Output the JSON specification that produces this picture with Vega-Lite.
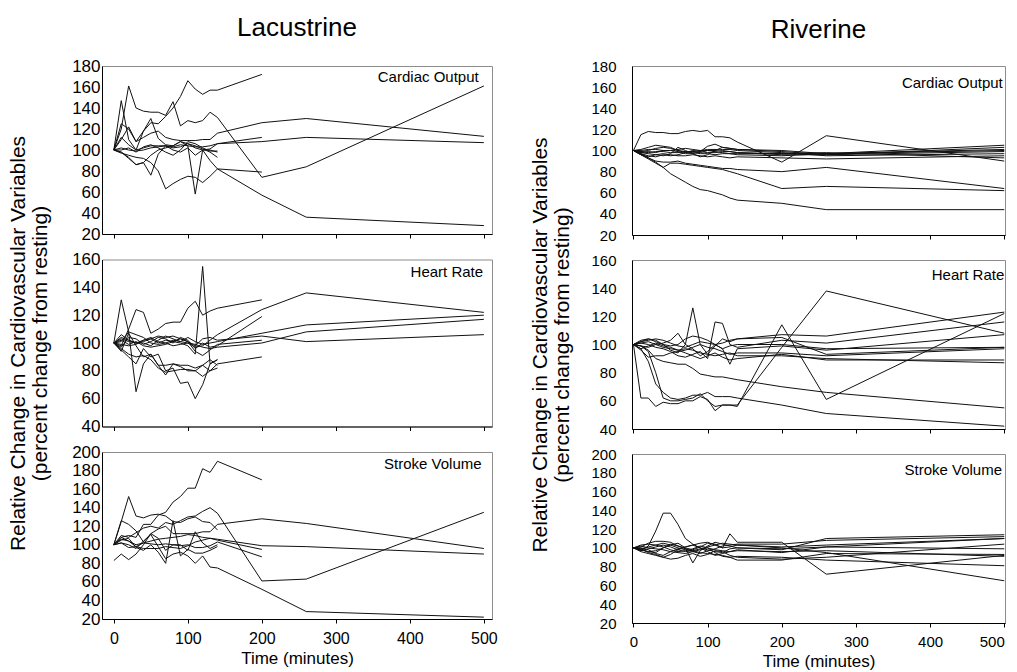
{
"$schema": "https://vega.github.io/schema/vega-lite/v6.json",
"background": "white",
"padding": {"left": 7, "top": 14, "right": 5, "bottom": 5},
"config": {
  "view": {"stroke": "#8c8c8c"},
  "axis": {"grid": false, "domainColor": "#000", "tickColor": "#000", "labelColor": "#000", "labelFont": "Liberation Sans", "labelFontSize": 17, "labelOverlap": false, "titleFont": "Liberation Sans", "titleFontSize": 21, "titleFontWeight": "normal", "titleColor": "#000", "tickSize": 4},
  "axisY": {"ticks": false, "labelPadding": 2},
  "axisX": {"labelPadding": 7},
  "line": {"color": "#111", "strokeWidth": 1},
  "text": {"font": "Liberation Sans", "fontSize": 15, "color": "#000"}
},
"datasets": {
"lco": [
{"i":1,"t":0,"v":100},{"i":1,"t":10,"v":110},{"i":1,"t":20,"v":122},{"i":1,"t":30,"v":108},{"i":1,"t":40,"v":118},{"i":1,"t":50,"v":126},{"i":1,"t":60,"v":125},{"i":1,"t":70,"v":132},{"i":1,"t":80,"v":140},{"i":1,"t":90,"v":151},{"i":1,"t":100,"v":166},{"i":1,"t":110,"v":158},{"i":1,"t":120,"v":153},{"i":1,"t":130,"v":157},{"i":1,"t":140,"v":157},{"i":1,"t":200,"v":172},
{"i":2,"t":0,"v":100},{"i":2,"t":10,"v":120},{"i":2,"t":20,"v":161},{"i":2,"t":30,"v":140},{"i":2,"t":40,"v":137},{"i":2,"t":50,"v":136},{"i":2,"t":60,"v":136},{"i":2,"t":70,"v":133},{"i":2,"t":80,"v":146},{"i":2,"t":90,"v":123},{"i":2,"t":100,"v":128},{"i":2,"t":110,"v":126},{"i":2,"t":120,"v":128},{"i":2,"t":130,"v":136},{"i":2,"t":140,"v":131},{"i":2,"t":200,"v":74},{"i":2,"t":260,"v":84},{"i":2,"t":500,"v":161},
{"i":3,"t":0,"v":100},{"i":3,"t":10,"v":147},{"i":3,"t":20,"v":110},{"i":3,"t":30,"v":100},{"i":3,"t":40,"v":118},{"i":3,"t":50,"v":130},{"i":3,"t":60,"v":111},{"i":3,"t":70,"v":105},{"i":3,"t":80,"v":104},{"i":3,"t":90,"v":108},{"i":3,"t":100,"v":106},{"i":3,"t":110,"v":104},{"i":3,"t":120,"v":101},{"i":3,"t":130,"v":98},{"i":3,"t":140,"v":93},
{"i":4,"t":0,"v":100},{"i":4,"t":10,"v":125},{"i":4,"t":20,"v":120},{"i":4,"t":30,"v":108},{"i":4,"t":40,"v":112},{"i":4,"t":50,"v":116},{"i":4,"t":60,"v":118},{"i":4,"t":70,"v":112},{"i":4,"t":80,"v":110},{"i":4,"t":90,"v":109},{"i":4,"t":100,"v":109},{"i":4,"t":110,"v":109},{"i":4,"t":120,"v":110},{"i":4,"t":130,"v":110},{"i":4,"t":140,"v":116},{"i":4,"t":200,"v":126},{"i":4,"t":260,"v":130},{"i":4,"t":500,"v":113},
{"i":5,"t":0,"v":100},{"i":5,"t":10,"v":112},{"i":5,"t":20,"v":105},{"i":5,"t":30,"v":100},{"i":5,"t":40,"v":102},{"i":5,"t":50,"v":104},{"i":5,"t":60,"v":104},{"i":5,"t":70,"v":104},{"i":5,"t":80,"v":103},{"i":5,"t":90,"v":105},{"i":5,"t":100,"v":104},{"i":5,"t":110,"v":103},{"i":5,"t":120,"v":103},{"i":5,"t":130,"v":104},{"i":5,"t":140,"v":106},{"i":5,"t":200,"v":108},{"i":5,"t":260,"v":112},{"i":5,"t":500,"v":107},
{"i":6,"t":0,"v":100},{"i":6,"t":10,"v":102},{"i":6,"t":20,"v":100},{"i":6,"t":30,"v":99},{"i":6,"t":40,"v":100},{"i":6,"t":50,"v":102},{"i":6,"t":60,"v":103},{"i":6,"t":70,"v":104},{"i":6,"t":80,"v":102},{"i":6,"t":90,"v":103},{"i":6,"t":100,"v":106},{"i":6,"t":110,"v":102},{"i":6,"t":120,"v":100},{"i":6,"t":130,"v":101},{"i":6,"t":140,"v":106},{"i":6,"t":200,"v":112},
{"i":7,"t":0,"v":100},{"i":7,"t":10,"v":97},{"i":7,"t":20,"v":95},{"i":7,"t":30,"v":93},{"i":7,"t":40,"v":92},{"i":7,"t":50,"v":88},{"i":7,"t":60,"v":80},{"i":7,"t":70,"v":63},{"i":7,"t":80,"v":68},{"i":7,"t":90,"v":72},{"i":7,"t":100,"v":75},{"i":7,"t":110,"v":74},{"i":7,"t":120,"v":69},{"i":7,"t":130,"v":75},{"i":7,"t":140,"v":82},{"i":7,"t":200,"v":79},
{"i":8,"t":0,"v":100},{"i":8,"t":10,"v":98},{"i":8,"t":20,"v":93},{"i":8,"t":30,"v":86},{"i":8,"t":40,"v":88},{"i":8,"t":50,"v":95},{"i":8,"t":60,"v":100},{"i":8,"t":70,"v":102},{"i":8,"t":80,"v":104},{"i":8,"t":90,"v":108},{"i":8,"t":100,"v":104},{"i":8,"t":110,"v":58},{"i":8,"t":120,"v":100},{"i":8,"t":130,"v":90},{"i":8,"t":140,"v":82},{"i":8,"t":200,"v":57},{"i":8,"t":260,"v":36},{"i":8,"t":500,"v":28},
{"i":9,"t":0,"v":100},{"i":9,"t":10,"v":98},{"i":9,"t":20,"v":92},{"i":9,"t":30,"v":86},{"i":9,"t":40,"v":88},{"i":9,"t":50,"v":76},{"i":9,"t":60,"v":96},{"i":9,"t":70,"v":104},{"i":9,"t":80,"v":100},{"i":9,"t":90,"v":98},{"i":9,"t":100,"v":102},{"i":9,"t":110,"v":95},{"i":9,"t":120,"v":100},{"i":9,"t":130,"v":100},{"i":9,"t":140,"v":98},
{"i":10,"t":0,"v":100},{"i":10,"t":10,"v":100},{"i":10,"t":20,"v":102},{"i":10,"t":30,"v":98},{"i":10,"t":40,"v":103},{"i":10,"t":50,"v":105},{"i":10,"t":60,"v":102},{"i":10,"t":70,"v":98},{"i":10,"t":80,"v":95},{"i":10,"t":90,"v":100},{"i":10,"t":100,"v":108},{"i":10,"t":110,"v":106},{"i":10,"t":120,"v":102},{"i":10,"t":130,"v":99},{"i":10,"t":140,"v":99}
],
"lhr": [
{"i":1,"t":0,"v":100},{"i":1,"t":10,"v":98},{"i":1,"t":20,"v":110},{"i":1,"t":30,"v":124},{"i":1,"t":40,"v":122},{"i":1,"t":50,"v":107},{"i":1,"t":60,"v":110},{"i":1,"t":70,"v":114},{"i":1,"t":80,"v":115},{"i":1,"t":90,"v":115},{"i":1,"t":100,"v":125},{"i":1,"t":110,"v":130},{"i":1,"t":120,"v":120},{"i":1,"t":130,"v":123},{"i":1,"t":140,"v":125},{"i":1,"t":200,"v":131},
{"i":2,"t":0,"v":100},{"i":2,"t":10,"v":104},{"i":2,"t":20,"v":102},{"i":2,"t":30,"v":100},{"i":2,"t":40,"v":101},{"i":2,"t":50,"v":103},{"i":2,"t":60,"v":100},{"i":2,"t":70,"v":102},{"i":2,"t":80,"v":101},{"i":2,"t":90,"v":100},{"i":2,"t":100,"v":98},{"i":2,"t":110,"v":92},{"i":2,"t":120,"v":155},{"i":2,"t":130,"v":85},{"i":2,"t":140,"v":88},
{"i":3,"t":0,"v":100},{"i":3,"t":10,"v":131},{"i":3,"t":20,"v":108},{"i":3,"t":30,"v":65},{"i":3,"t":40,"v":85},{"i":3,"t":50,"v":92},{"i":3,"t":60,"v":84},{"i":3,"t":70,"v":77},{"i":3,"t":80,"v":85},{"i":3,"t":90,"v":84},{"i":3,"t":100,"v":84},{"i":3,"t":110,"v":82},{"i":3,"t":120,"v":84},{"i":3,"t":130,"v":80},{"i":3,"t":140,"v":85},{"i":3,"t":200,"v":90},
{"i":4,"t":0,"v":100},{"i":4,"t":10,"v":95},{"i":4,"t":20,"v":90},{"i":4,"t":30,"v":85},{"i":4,"t":40,"v":96},{"i":4,"t":50,"v":90},{"i":4,"t":60,"v":92},{"i":4,"t":70,"v":80},{"i":4,"t":80,"v":82},{"i":4,"t":90,"v":71},{"i":4,"t":100,"v":72},{"i":4,"t":110,"v":60},{"i":4,"t":120,"v":70},{"i":4,"t":130,"v":85},{"i":4,"t":140,"v":88},
{"i":5,"t":0,"v":100},{"i":5,"t":10,"v":103},{"i":5,"t":20,"v":101},{"i":5,"t":30,"v":100},{"i":5,"t":40,"v":102},{"i":5,"t":50,"v":104},{"i":5,"t":60,"v":101},{"i":5,"t":70,"v":100},{"i":5,"t":80,"v":102},{"i":5,"t":90,"v":101},{"i":5,"t":100,"v":100},{"i":5,"t":110,"v":97},{"i":5,"t":120,"v":98},{"i":5,"t":130,"v":102},{"i":5,"t":140,"v":106},{"i":5,"t":200,"v":124},{"i":5,"t":260,"v":136},{"i":5,"t":500,"v":122},
{"i":6,"t":0,"v":100},{"i":6,"t":10,"v":97},{"i":6,"t":20,"v":104},{"i":6,"t":30,"v":103},{"i":6,"t":40,"v":99},{"i":6,"t":50,"v":101},{"i":6,"t":60,"v":104},{"i":6,"t":70,"v":103},{"i":6,"t":80,"v":100},{"i":6,"t":90,"v":104},{"i":6,"t":100,"v":102},{"i":6,"t":110,"v":96},{"i":6,"t":120,"v":100},{"i":6,"t":130,"v":97},{"i":6,"t":140,"v":98},{"i":6,"t":200,"v":119},
{"i":7,"t":0,"v":100},{"i":7,"t":10,"v":106},{"i":7,"t":20,"v":102},{"i":7,"t":30,"v":100},{"i":7,"t":40,"v":100},{"i":7,"t":50,"v":98},{"i":7,"t":60,"v":102},{"i":7,"t":70,"v":105},{"i":7,"t":80,"v":103},{"i":7,"t":90,"v":101},{"i":7,"t":100,"v":104},{"i":7,"t":110,"v":101},{"i":7,"t":120,"v":99},{"i":7,"t":130,"v":100},{"i":7,"t":140,"v":101},{"i":7,"t":200,"v":107},{"i":7,"t":260,"v":113},{"i":7,"t":500,"v":120},
{"i":8,"t":0,"v":100},{"i":8,"t":10,"v":101},{"i":8,"t":20,"v":108},{"i":8,"t":30,"v":106},{"i":8,"t":40,"v":104},{"i":8,"t":50,"v":100},{"i":8,"t":60,"v":99},{"i":8,"t":70,"v":100},{"i":8,"t":80,"v":98},{"i":8,"t":90,"v":99},{"i":8,"t":100,"v":100},{"i":8,"t":110,"v":99},{"i":8,"t":120,"v":97},{"i":8,"t":130,"v":96},{"i":8,"t":140,"v":97},{"i":8,"t":200,"v":100},{"i":8,"t":260,"v":108},{"i":8,"t":500,"v":117},
{"i":9,"t":0,"v":100},{"i":9,"t":10,"v":102},{"i":9,"t":20,"v":99},{"i":9,"t":30,"v":101},{"i":9,"t":40,"v":98},{"i":9,"t":50,"v":97},{"i":9,"t":60,"v":98},{"i":9,"t":70,"v":99},{"i":9,"t":80,"v":101},{"i":9,"t":90,"v":103},{"i":9,"t":100,"v":101},{"i":9,"t":110,"v":98},{"i":9,"t":120,"v":103},{"i":9,"t":130,"v":104},{"i":9,"t":140,"v":102},{"i":9,"t":200,"v":105},{"i":9,"t":260,"v":101},{"i":9,"t":500,"v":106},
{"i":10,"t":0,"v":100},{"i":10,"t":10,"v":94},{"i":10,"t":20,"v":107},{"i":10,"t":30,"v":98},{"i":10,"t":40,"v":90},{"i":10,"t":50,"v":92},{"i":10,"t":60,"v":84},{"i":10,"t":70,"v":84},{"i":10,"t":80,"v":85},{"i":10,"t":90,"v":83},{"i":10,"t":100,"v":80},{"i":10,"t":110,"v":80},{"i":10,"t":120,"v":76},{"i":10,"t":130,"v":80},{"i":10,"t":140,"v":82},
{"i":11,"t":0,"v":100},{"i":11,"t":10,"v":99},{"i":11,"t":20,"v":98},{"i":11,"t":30,"v":99},{"i":11,"t":40,"v":102},{"i":11,"t":50,"v":103},{"i":11,"t":60,"v":105},{"i":11,"t":70,"v":104},{"i":11,"t":80,"v":105},{"i":11,"t":90,"v":103},{"i":11,"t":100,"v":101},{"i":11,"t":110,"v":94},{"i":11,"t":120,"v":91},{"i":11,"t":130,"v":95},{"i":11,"t":140,"v":99},{"i":11,"t":200,"v":102},
{"i":12,"t":0,"v":100},{"i":12,"t":10,"v":96},{"i":12,"t":20,"v":92},{"i":12,"t":30,"v":90},{"i":12,"t":40,"v":91},{"i":12,"t":50,"v":88},{"i":12,"t":60,"v":82},{"i":12,"t":70,"v":79},{"i":12,"t":80,"v":80},{"i":12,"t":90,"v":81},{"i":12,"t":100,"v":81},{"i":12,"t":110,"v":80},{"i":12,"t":120,"v":84},{"i":12,"t":130,"v":88},{"i":12,"t":140,"v":84}
],
"lsv": [
{"i":1,"t":0,"v":100},{"i":1,"t":10,"v":108},{"i":1,"t":20,"v":110},{"i":1,"t":30,"v":108},{"i":1,"t":40,"v":122},{"i":1,"t":50,"v":122},{"i":1,"t":60,"v":132},{"i":1,"t":70,"v":135},{"i":1,"t":80,"v":146},{"i":1,"t":90,"v":152},{"i":1,"t":100,"v":161},{"i":1,"t":110,"v":161},{"i":1,"t":120,"v":182},{"i":1,"t":130,"v":178},{"i":1,"t":140,"v":190},{"i":1,"t":200,"v":170},
{"i":2,"t":0,"v":100},{"i":2,"t":10,"v":125},{"i":2,"t":20,"v":152},{"i":2,"t":30,"v":131},{"i":2,"t":40,"v":129},{"i":2,"t":50,"v":132},{"i":2,"t":60,"v":133},{"i":2,"t":70,"v":131},{"i":2,"t":80,"v":125},{"i":2,"t":90,"v":124},{"i":2,"t":100,"v":128},{"i":2,"t":110,"v":130},{"i":2,"t":120,"v":125},{"i":2,"t":130,"v":124},{"i":2,"t":140,"v":116},
{"i":3,"t":0,"v":100},{"i":3,"t":10,"v":110},{"i":3,"t":20,"v":108},{"i":3,"t":30,"v":113},{"i":3,"t":40,"v":118},{"i":3,"t":50,"v":120},{"i":3,"t":60,"v":118},{"i":3,"t":70,"v":124},{"i":3,"t":80,"v":122},{"i":3,"t":90,"v":126},{"i":3,"t":100,"v":130},{"i":3,"t":110,"v":131},{"i":3,"t":120,"v":136},{"i":3,"t":130,"v":140},{"i":3,"t":140,"v":134},{"i":3,"t":200,"v":61},{"i":3,"t":260,"v":63},{"i":3,"t":500,"v":135},
{"i":4,"t":0,"v":100},{"i":4,"t":10,"v":126},{"i":4,"t":20,"v":122},{"i":4,"t":30,"v":115},{"i":4,"t":40,"v":103},{"i":4,"t":50,"v":112},{"i":4,"t":60,"v":117},{"i":4,"t":70,"v":120},{"i":4,"t":80,"v":112},{"i":4,"t":90,"v":112},{"i":4,"t":100,"v":112},{"i":4,"t":110,"v":112},{"i":4,"t":120,"v":114},{"i":4,"t":130,"v":114},{"i":4,"t":140,"v":122},{"i":4,"t":200,"v":128},{"i":4,"t":260,"v":123},{"i":4,"t":500,"v":96},
{"i":5,"t":0,"v":100},{"i":5,"t":10,"v":106},{"i":5,"t":20,"v":104},{"i":5,"t":30,"v":100},{"i":5,"t":40,"v":102},{"i":5,"t":50,"v":104},{"i":5,"t":60,"v":106},{"i":5,"t":70,"v":107},{"i":5,"t":80,"v":108},{"i":5,"t":90,"v":109},{"i":5,"t":100,"v":111},{"i":5,"t":110,"v":110},{"i":5,"t":120,"v":108},{"i":5,"t":130,"v":107},{"i":5,"t":140,"v":106},{"i":5,"t":200,"v":99},{"i":5,"t":260,"v":98},{"i":5,"t":500,"v":90},
{"i":6,"t":0,"v":100},{"i":6,"t":10,"v":108},{"i":6,"t":20,"v":104},{"i":6,"t":30,"v":98},{"i":6,"t":40,"v":96},{"i":6,"t":50,"v":96},{"i":6,"t":60,"v":96},{"i":6,"t":70,"v":98},{"i":6,"t":80,"v":97},{"i":6,"t":90,"v":96},{"i":6,"t":100,"v":99},{"i":6,"t":110,"v":103},{"i":6,"t":120,"v":105},{"i":6,"t":130,"v":107},{"i":6,"t":140,"v":105},{"i":6,"t":200,"v":95},
{"i":7,"t":0,"v":100},{"i":7,"t":10,"v":102},{"i":7,"t":20,"v":97},{"i":7,"t":30,"v":98},{"i":7,"t":40,"v":102},{"i":7,"t":50,"v":101},{"i":7,"t":60,"v":100},{"i":7,"t":70,"v":101},{"i":7,"t":80,"v":100},{"i":7,"t":90,"v":99},{"i":7,"t":100,"v":100},{"i":7,"t":110,"v":97},{"i":7,"t":120,"v":97},{"i":7,"t":130,"v":99},{"i":7,"t":140,"v":103},{"i":7,"t":200,"v":87},
{"i":8,"t":0,"v":100},{"i":8,"t":10,"v":102},{"i":8,"t":20,"v":100},{"i":8,"t":30,"v":96},{"i":8,"t":40,"v":104},{"i":8,"t":50,"v":111},{"i":8,"t":60,"v":98},{"i":8,"t":70,"v":85},{"i":8,"t":80,"v":90},{"i":8,"t":90,"v":92},{"i":8,"t":100,"v":88},{"i":8,"t":110,"v":80},{"i":8,"t":120,"v":88},{"i":8,"t":130,"v":76},{"i":8,"t":140,"v":75},{"i":8,"t":200,"v":52},{"i":8,"t":260,"v":28},{"i":8,"t":500,"v":22},
{"i":9,"t":0,"v":83},{"i":9,"t":10,"v":90},{"i":9,"t":20,"v":84},{"i":9,"t":30,"v":90},{"i":9,"t":40,"v":100},{"i":9,"t":50,"v":112},{"i":9,"t":60,"v":107},{"i":9,"t":70,"v":94},{"i":9,"t":80,"v":100},{"i":9,"t":90,"v":100},{"i":9,"t":100,"v":94},{"i":9,"t":110,"v":114},{"i":9,"t":120,"v":102},{"i":9,"t":130,"v":96},{"i":9,"t":140,"v":100},
{"i":10,"t":0,"v":100},{"i":10,"t":10,"v":105},{"i":10,"t":20,"v":107},{"i":10,"t":30,"v":97},{"i":10,"t":40,"v":94},{"i":10,"t":50,"v":100},{"i":10,"t":60,"v":92},{"i":10,"t":70,"v":80},{"i":10,"t":80,"v":126},{"i":10,"t":90,"v":88},{"i":10,"t":100,"v":95},{"i":10,"t":110,"v":91},{"i":10,"t":120,"v":91},{"i":10,"t":130,"v":94},{"i":10,"t":140,"v":98}
],
"rco": [
{"i":1,"t":0,"v":100},{"i":1,"t":10,"v":115},{"i":1,"t":20,"v":118},{"i":1,"t":30,"v":117},{"i":1,"t":40,"v":117},{"i":1,"t":50,"v":116},{"i":1,"t":60,"v":116},{"i":1,"t":70,"v":118},{"i":1,"t":80,"v":119},{"i":1,"t":90,"v":118},{"i":1,"t":100,"v":119},{"i":1,"t":110,"v":113},{"i":1,"t":120,"v":113},{"i":1,"t":130,"v":112},{"i":1,"t":140,"v":108},{"i":1,"t":200,"v":89},{"i":1,"t":260,"v":114},{"i":1,"t":500,"v":90},
{"i":2,"t":0,"v":100},{"i":2,"t":10,"v":97},{"i":2,"t":20,"v":93},{"i":2,"t":30,"v":89},{"i":2,"t":40,"v":84},{"i":2,"t":50,"v":78},{"i":2,"t":60,"v":74},{"i":2,"t":70,"v":70},{"i":2,"t":80,"v":66},{"i":2,"t":90,"v":63},{"i":2,"t":100,"v":62},{"i":2,"t":110,"v":60},{"i":2,"t":120,"v":58},{"i":2,"t":130,"v":55},{"i":2,"t":140,"v":53},{"i":2,"t":200,"v":50},{"i":2,"t":260,"v":44},{"i":2,"t":500,"v":44},
{"i":3,"t":0,"v":100},{"i":3,"t":10,"v":96},{"i":3,"t":20,"v":93},{"i":3,"t":30,"v":90},{"i":3,"t":40,"v":89},{"i":3,"t":50,"v":89},{"i":3,"t":60,"v":90},{"i":3,"t":70,"v":88},{"i":3,"t":80,"v":87},{"i":3,"t":90,"v":86},{"i":3,"t":100,"v":85},{"i":3,"t":110,"v":84},{"i":3,"t":120,"v":83},{"i":3,"t":130,"v":83},{"i":3,"t":140,"v":82},{"i":3,"t":200,"v":80},{"i":3,"t":260,"v":84},{"i":3,"t":500,"v":64},
{"i":4,"t":0,"v":100},{"i":4,"t":10,"v":96},{"i":4,"t":20,"v":92},{"i":4,"t":30,"v":88},{"i":4,"t":40,"v":84},{"i":4,"t":50,"v":88},{"i":4,"t":60,"v":88},{"i":4,"t":70,"v":87},{"i":4,"t":80,"v":86},{"i":4,"t":90,"v":85},{"i":4,"t":100,"v":84},{"i":4,"t":110,"v":83},{"i":4,"t":120,"v":82},{"i":4,"t":130,"v":80},{"i":4,"t":140,"v":78},{"i":4,"t":200,"v":64},{"i":4,"t":260,"v":66},{"i":4,"t":500,"v":62},
{"i":5,"t":0,"v":100},{"i":5,"t":10,"v":101},{"i":5,"t":20,"v":103},{"i":5,"t":30,"v":105},{"i":5,"t":40,"v":104},{"i":5,"t":50,"v":103},{"i":5,"t":60,"v":100},{"i":5,"t":70,"v":98},{"i":5,"t":80,"v":100},{"i":5,"t":90,"v":99},{"i":5,"t":100,"v":104},{"i":5,"t":110,"v":106},{"i":5,"t":120,"v":103},{"i":5,"t":130,"v":102},{"i":5,"t":140,"v":101},{"i":5,"t":200,"v":100},{"i":5,"t":260,"v":97},{"i":5,"t":500,"v":105},
{"i":6,"t":0,"v":100},{"i":6,"t":10,"v":98},{"i":6,"t":20,"v":97},{"i":6,"t":30,"v":96},{"i":6,"t":40,"v":95},{"i":6,"t":50,"v":97},{"i":6,"t":60,"v":103},{"i":6,"t":70,"v":100},{"i":6,"t":80,"v":97},{"i":6,"t":90,"v":94},{"i":6,"t":100,"v":96},{"i":6,"t":110,"v":100},{"i":6,"t":120,"v":103},{"i":6,"t":130,"v":102},{"i":6,"t":140,"v":101},{"i":6,"t":200,"v":99},{"i":6,"t":260,"v":96},{"i":6,"t":500,"v":103},
{"i":7,"t":0,"v":100},{"i":7,"t":10,"v":99},{"i":7,"t":20,"v":98},{"i":7,"t":30,"v":99},{"i":7,"t":40,"v":99},{"i":7,"t":50,"v":98},{"i":7,"t":60,"v":98},{"i":7,"t":70,"v":99},{"i":7,"t":80,"v":99},{"i":7,"t":90,"v":98},{"i":7,"t":100,"v":100},{"i":7,"t":110,"v":99},{"i":7,"t":120,"v":98},{"i":7,"t":130,"v":97},{"i":7,"t":140,"v":97},{"i":7,"t":200,"v":97},{"i":7,"t":260,"v":97},{"i":7,"t":500,"v":101},
{"i":8,"t":0,"v":100},{"i":8,"t":10,"v":97},{"i":8,"t":20,"v":95},{"i":8,"t":30,"v":94},{"i":8,"t":40,"v":96},{"i":8,"t":50,"v":95},{"i":8,"t":60,"v":96},{"i":8,"t":70,"v":98},{"i":8,"t":80,"v":99},{"i":8,"t":90,"v":100},{"i":8,"t":100,"v":101},{"i":8,"t":110,"v":101},{"i":8,"t":120,"v":100},{"i":8,"t":130,"v":99},{"i":8,"t":140,"v":98},{"i":8,"t":200,"v":96},{"i":8,"t":260,"v":96},{"i":8,"t":500,"v":99},
{"i":9,"t":0,"v":100},{"i":9,"t":10,"v":100},{"i":9,"t":20,"v":101},{"i":9,"t":30,"v":101},{"i":9,"t":40,"v":100},{"i":9,"t":50,"v":100},{"i":9,"t":60,"v":101},{"i":9,"t":70,"v":102},{"i":9,"t":80,"v":101},{"i":9,"t":90,"v":100},{"i":9,"t":100,"v":100},{"i":9,"t":110,"v":100},{"i":9,"t":120,"v":101},{"i":9,"t":130,"v":101},{"i":9,"t":140,"v":100},{"i":9,"t":200,"v":98},{"i":9,"t":260,"v":95},{"i":9,"t":500,"v":97},
{"i":10,"t":0,"v":100},{"i":10,"t":10,"v":96},{"i":10,"t":20,"v":94},{"i":10,"t":30,"v":96},{"i":10,"t":40,"v":97},{"i":10,"t":50,"v":96},{"i":10,"t":60,"v":95},{"i":10,"t":70,"v":95},{"i":10,"t":80,"v":96},{"i":10,"t":90,"v":95},{"i":10,"t":100,"v":94},{"i":10,"t":110,"v":95},{"i":10,"t":120,"v":94},{"i":10,"t":130,"v":93},{"i":10,"t":140,"v":94},{"i":10,"t":200,"v":93},{"i":10,"t":260,"v":92},{"i":10,"t":500,"v":95},
{"i":11,"t":0,"v":100},{"i":11,"t":10,"v":99},{"i":11,"t":20,"v":100},{"i":11,"t":30,"v":102},{"i":11,"t":40,"v":103},{"i":11,"t":50,"v":102},{"i":11,"t":60,"v":100},{"i":11,"t":70,"v":99},{"i":11,"t":80,"v":98},{"i":11,"t":90,"v":97},{"i":11,"t":100,"v":97},{"i":11,"t":110,"v":96},{"i":11,"t":120,"v":97},{"i":11,"t":130,"v":97},{"i":11,"t":140,"v":96},{"i":11,"t":200,"v":95},{"i":11,"t":260,"v":97},{"i":11,"t":500,"v":100},
{"i":12,"t":0,"v":100},{"i":12,"t":10,"v":98},{"i":12,"t":20,"v":99},{"i":12,"t":30,"v":98},{"i":12,"t":40,"v":100},{"i":12,"t":50,"v":100},{"i":12,"t":60,"v":99},{"i":12,"t":70,"v":97},{"i":12,"t":80,"v":97},{"i":12,"t":90,"v":99},{"i":12,"t":100,"v":98},{"i":12,"t":110,"v":98},{"i":12,"t":120,"v":99},{"i":12,"t":130,"v":99},{"i":12,"t":140,"v":98},{"i":12,"t":200,"v":97},{"i":12,"t":260,"v":98},{"i":12,"t":500,"v":93}
],
"rhr": [
{"i":1,"t":0,"v":100},{"i":1,"t":10,"v":62},{"i":1,"t":20,"v":62},{"i":1,"t":30,"v":56},{"i":1,"t":40,"v":59},{"i":1,"t":50,"v":58},{"i":1,"t":60,"v":58},{"i":1,"t":70,"v":60},{"i":1,"t":80,"v":60},{"i":1,"t":90,"v":63},{"i":1,"t":100,"v":61},{"i":1,"t":110,"v":53},{"i":1,"t":120,"v":57},{"i":1,"t":130,"v":57},{"i":1,"t":140,"v":56},{"i":1,"t":200,"v":114},{"i":1,"t":260,"v":61},{"i":1,"t":500,"v":122},
{"i":2,"t":0,"v":100},{"i":2,"t":10,"v":99},{"i":2,"t":20,"v":96},{"i":2,"t":30,"v":90},{"i":2,"t":40,"v":88},{"i":2,"t":50,"v":87},{"i":2,"t":60,"v":86},{"i":2,"t":70,"v":86},{"i":2,"t":80,"v":83},{"i":2,"t":90,"v":79},{"i":2,"t":100,"v":78},{"i":2,"t":110,"v":77},{"i":2,"t":120,"v":77},{"i":2,"t":130,"v":76},{"i":2,"t":140,"v":75},{"i":2,"t":200,"v":70},{"i":2,"t":260,"v":66},{"i":2,"t":500,"v":55},
{"i":3,"t":0,"v":100},{"i":3,"t":10,"v":99},{"i":3,"t":20,"v":95},{"i":3,"t":30,"v":80},{"i":3,"t":40,"v":62},{"i":3,"t":50,"v":60},{"i":3,"t":60,"v":60},{"i":3,"t":70,"v":61},{"i":3,"t":80,"v":62},{"i":3,"t":90,"v":65},{"i":3,"t":100,"v":60},{"i":3,"t":110,"v":56},{"i":3,"t":120,"v":57},{"i":3,"t":130,"v":57},{"i":3,"t":140,"v":57},{"i":3,"t":200,"v":98},{"i":3,"t":260,"v":138},{"i":3,"t":500,"v":108},
{"i":4,"t":0,"v":100},{"i":4,"t":10,"v":97},{"i":4,"t":20,"v":88},{"i":4,"t":30,"v":72},{"i":4,"t":40,"v":66},{"i":4,"t":50,"v":62},{"i":4,"t":60,"v":61},{"i":4,"t":70,"v":62},{"i":4,"t":80,"v":64},{"i":4,"t":90,"v":64},{"i":4,"t":100,"v":66},{"i":4,"t":110,"v":63},{"i":4,"t":120,"v":63},{"i":4,"t":130,"v":63},{"i":4,"t":140,"v":62},{"i":4,"t":200,"v":57},{"i":4,"t":260,"v":51},{"i":4,"t":500,"v":42},
{"i":5,"t":0,"v":100},{"i":5,"t":10,"v":102},{"i":5,"t":20,"v":104},{"i":5,"t":30,"v":103},{"i":5,"t":40,"v":100},{"i":5,"t":50,"v":96},{"i":5,"t":60,"v":94},{"i":5,"t":70,"v":100},{"i":5,"t":80,"v":126},{"i":5,"t":90,"v":100},{"i":5,"t":100,"v":93},{"i":5,"t":110,"v":99},{"i":5,"t":120,"v":104},{"i":5,"t":130,"v":102},{"i":5,"t":140,"v":104},{"i":5,"t":200,"v":107},{"i":5,"t":260,"v":106},{"i":5,"t":500,"v":123},
{"i":6,"t":0,"v":100},{"i":6,"t":10,"v":101},{"i":6,"t":20,"v":100},{"i":6,"t":30,"v":98},{"i":6,"t":40,"v":97},{"i":6,"t":50,"v":95},{"i":6,"t":60,"v":92},{"i":6,"t":70,"v":91},{"i":6,"t":80,"v":93},{"i":6,"t":90,"v":95},{"i":6,"t":100,"v":90},{"i":6,"t":110,"v":116},{"i":6,"t":120,"v":115},{"i":6,"t":130,"v":100},{"i":6,"t":140,"v":98},{"i":6,"t":200,"v":103},{"i":6,"t":260,"v":101},{"i":6,"t":500,"v":116},
{"i":7,"t":0,"v":100},{"i":7,"t":10,"v":99},{"i":7,"t":20,"v":98},{"i":7,"t":30,"v":100},{"i":7,"t":40,"v":101},{"i":7,"t":50,"v":103},{"i":7,"t":60,"v":108},{"i":7,"t":70,"v":100},{"i":7,"t":80,"v":97},{"i":7,"t":90,"v":92},{"i":7,"t":100,"v":95},{"i":7,"t":110,"v":100},{"i":7,"t":120,"v":97},{"i":7,"t":130,"v":86},{"i":7,"t":140,"v":97},{"i":7,"t":200,"v":99},{"i":7,"t":260,"v":96},{"i":7,"t":500,"v":107},
{"i":8,"t":0,"v":100},{"i":8,"t":10,"v":103},{"i":8,"t":20,"v":104},{"i":8,"t":30,"v":102},{"i":8,"t":40,"v":100},{"i":8,"t":50,"v":99},{"i":8,"t":60,"v":100},{"i":8,"t":70,"v":104},{"i":8,"t":80,"v":106},{"i":8,"t":90,"v":105},{"i":8,"t":100,"v":103},{"i":8,"t":110,"v":100},{"i":8,"t":120,"v":97},{"i":8,"t":130,"v":99},{"i":8,"t":140,"v":100},{"i":8,"t":200,"v":100},{"i":8,"t":260,"v":97},{"i":8,"t":500,"v":98},
{"i":9,"t":0,"v":100},{"i":9,"t":10,"v":96},{"i":9,"t":20,"v":91},{"i":9,"t":30,"v":92},{"i":9,"t":40,"v":92},{"i":9,"t":50,"v":94},{"i":9,"t":60,"v":95},{"i":9,"t":70,"v":96},{"i":9,"t":80,"v":98},{"i":9,"t":90,"v":100},{"i":9,"t":100,"v":98},{"i":9,"t":110,"v":97},{"i":9,"t":120,"v":95},{"i":9,"t":130,"v":93},{"i":9,"t":140,"v":94},{"i":9,"t":200,"v":94},{"i":9,"t":260,"v":92},{"i":9,"t":500,"v":97},
{"i":10,"t":0,"v":100},{"i":10,"t":10,"v":97},{"i":10,"t":20,"v":99},{"i":10,"t":30,"v":101},{"i":10,"t":40,"v":99},{"i":10,"t":50,"v":98},{"i":10,"t":60,"v":96},{"i":10,"t":70,"v":94},{"i":10,"t":80,"v":92},{"i":10,"t":90,"v":90},{"i":10,"t":100,"v":92},{"i":10,"t":110,"v":94},{"i":10,"t":120,"v":91},{"i":10,"t":130,"v":89},{"i":10,"t":140,"v":90},{"i":10,"t":200,"v":93},{"i":10,"t":260,"v":89},{"i":10,"t":500,"v":89},
{"i":11,"t":0,"v":100},{"i":11,"t":10,"v":101},{"i":11,"t":20,"v":102},{"i":11,"t":30,"v":100},{"i":11,"t":40,"v":98},{"i":11,"t":50,"v":97},{"i":11,"t":60,"v":96},{"i":11,"t":70,"v":97},{"i":11,"t":80,"v":96},{"i":11,"t":90,"v":94},{"i":11,"t":100,"v":93},{"i":11,"t":110,"v":92},{"i":11,"t":120,"v":93},{"i":11,"t":130,"v":94},{"i":11,"t":140,"v":92},{"i":11,"t":200,"v":92},{"i":11,"t":260,"v":90},{"i":11,"t":500,"v":87},
{"i":12,"t":0,"v":100},{"i":12,"t":10,"v":102},{"i":12,"t":20,"v":103},{"i":12,"t":30,"v":104},{"i":12,"t":40,"v":103},{"i":12,"t":50,"v":101},{"i":12,"t":60,"v":99},{"i":12,"t":70,"v":98},{"i":12,"t":80,"v":100},{"i":12,"t":90,"v":102},{"i":12,"t":100,"v":101},{"i":12,"t":110,"v":100},{"i":12,"t":120,"v":101},{"i":12,"t":130,"v":103},{"i":12,"t":140,"v":104},{"i":12,"t":200,"v":105},{"i":12,"t":260,"v":93},{"i":12,"t":500,"v":98}
],
"rsv": [
{"i":1,"t":0,"v":100},{"i":1,"t":10,"v":97},{"i":1,"t":20,"v":102},{"i":1,"t":30,"v":118},{"i":1,"t":40,"v":137},{"i":1,"t":50,"v":137},{"i":1,"t":60,"v":125},{"i":1,"t":70,"v":110},{"i":1,"t":80,"v":104},{"i":1,"t":90,"v":100},{"i":1,"t":100,"v":98},{"i":1,"t":110,"v":96},{"i":1,"t":120,"v":95},{"i":1,"t":130,"v":99},{"i":1,"t":140,"v":100},{"i":1,"t":200,"v":99},{"i":1,"t":260,"v":101},{"i":1,"t":500,"v":99},
{"i":2,"t":0,"v":100},{"i":2,"t":10,"v":98},{"i":2,"t":20,"v":96},{"i":2,"t":30,"v":95},{"i":2,"t":40,"v":100},{"i":2,"t":50,"v":104},{"i":2,"t":60,"v":102},{"i":2,"t":70,"v":100},{"i":2,"t":80,"v":98},{"i":2,"t":90,"v":101},{"i":2,"t":100,"v":105},{"i":2,"t":110,"v":104},{"i":2,"t":120,"v":100},{"i":2,"t":130,"v":115},{"i":2,"t":140,"v":106},{"i":2,"t":200,"v":106},{"i":2,"t":260,"v":72},{"i":2,"t":500,"v":92},
{"i":3,"t":0,"v":100},{"i":3,"t":10,"v":96},{"i":3,"t":20,"v":94},{"i":3,"t":30,"v":92},{"i":3,"t":40,"v":90},{"i":3,"t":50,"v":93},{"i":3,"t":60,"v":98},{"i":3,"t":70,"v":101},{"i":3,"t":80,"v":103},{"i":3,"t":90,"v":105},{"i":3,"t":100,"v":106},{"i":3,"t":110,"v":103},{"i":3,"t":120,"v":100},{"i":3,"t":130,"v":101},{"i":3,"t":140,"v":103},{"i":3,"t":200,"v":100},{"i":3,"t":260,"v":95},{"i":3,"t":500,"v":65},
{"i":4,"t":0,"v":100},{"i":4,"t":10,"v":98},{"i":4,"t":20,"v":96},{"i":4,"t":30,"v":97},{"i":4,"t":40,"v":100},{"i":4,"t":50,"v":103},{"i":4,"t":60,"v":105},{"i":4,"t":70,"v":100},{"i":4,"t":80,"v":84},{"i":4,"t":90,"v":97},{"i":4,"t":100,"v":102},{"i":4,"t":110,"v":106},{"i":4,"t":120,"v":104},{"i":4,"t":130,"v":102},{"i":4,"t":140,"v":100},{"i":4,"t":200,"v":98},{"i":4,"t":260,"v":110},{"i":4,"t":500,"v":114},
{"i":5,"t":0,"v":100},{"i":5,"t":10,"v":101},{"i":5,"t":20,"v":105},{"i":5,"t":30,"v":107},{"i":5,"t":40,"v":107},{"i":5,"t":50,"v":106},{"i":5,"t":60,"v":102},{"i":5,"t":70,"v":99},{"i":5,"t":80,"v":96},{"i":5,"t":90,"v":94},{"i":5,"t":100,"v":97},{"i":5,"t":110,"v":99},{"i":5,"t":120,"v":102},{"i":5,"t":130,"v":103},{"i":5,"t":140,"v":104},{"i":5,"t":200,"v":104},{"i":5,"t":260,"v":108},{"i":5,"t":500,"v":112},
{"i":6,"t":0,"v":100},{"i":6,"t":10,"v":100},{"i":6,"t":20,"v":98},{"i":6,"t":30,"v":94},{"i":6,"t":40,"v":92},{"i":6,"t":50,"v":96},{"i":6,"t":60,"v":99},{"i":6,"t":70,"v":101},{"i":6,"t":80,"v":103},{"i":6,"t":90,"v":100},{"i":6,"t":100,"v":96},{"i":6,"t":110,"v":92},{"i":6,"t":120,"v":94},{"i":6,"t":130,"v":96},{"i":6,"t":140,"v":98},{"i":6,"t":200,"v":95},{"i":6,"t":260,"v":101},{"i":6,"t":500,"v":110},
{"i":7,"t":0,"v":100},{"i":7,"t":10,"v":99},{"i":7,"t":20,"v":95},{"i":7,"t":30,"v":93},{"i":7,"t":40,"v":90},{"i":7,"t":50,"v":88},{"i":7,"t":60,"v":89},{"i":7,"t":70,"v":92},{"i":7,"t":80,"v":94},{"i":7,"t":90,"v":91},{"i":7,"t":100,"v":93},{"i":7,"t":110,"v":97},{"i":7,"t":120,"v":96},{"i":7,"t":130,"v":92},{"i":7,"t":140,"v":90},{"i":7,"t":200,"v":88},{"i":7,"t":260,"v":90},{"i":7,"t":500,"v":104},
{"i":8,"t":0,"v":100},{"i":8,"t":10,"v":102},{"i":8,"t":20,"v":100},{"i":8,"t":30,"v":99},{"i":8,"t":40,"v":98},{"i":8,"t":50,"v":96},{"i":8,"t":60,"v":95},{"i":8,"t":70,"v":94},{"i":8,"t":80,"v":96},{"i":8,"t":90,"v":98},{"i":8,"t":100,"v":100},{"i":8,"t":110,"v":95},{"i":8,"t":120,"v":91},{"i":8,"t":130,"v":90},{"i":8,"t":140,"v":91},{"i":8,"t":200,"v":90},{"i":8,"t":260,"v":87},{"i":8,"t":500,"v":81},
{"i":9,"t":0,"v":100},{"i":9,"t":10,"v":97},{"i":9,"t":20,"v":99},{"i":9,"t":30,"v":101},{"i":9,"t":40,"v":103},{"i":9,"t":50,"v":101},{"i":9,"t":60,"v":98},{"i":9,"t":70,"v":96},{"i":9,"t":80,"v":97},{"i":9,"t":90,"v":95},{"i":9,"t":100,"v":94},{"i":9,"t":110,"v":93},{"i":9,"t":120,"v":92},{"i":9,"t":130,"v":90},{"i":9,"t":140,"v":87},{"i":9,"t":200,"v":87},{"i":9,"t":260,"v":94},{"i":9,"t":500,"v":93},
{"i":10,"t":0,"v":100},{"i":10,"t":10,"v":103},{"i":10,"t":20,"v":104},{"i":10,"t":30,"v":103},{"i":10,"t":40,"v":101},{"i":10,"t":50,"v":98},{"i":10,"t":60,"v":96},{"i":10,"t":70,"v":97},{"i":10,"t":80,"v":99},{"i":10,"t":90,"v":102},{"i":10,"t":100,"v":100},{"i":10,"t":110,"v":98},{"i":10,"t":120,"v":97},{"i":10,"t":130,"v":96},{"i":10,"t":140,"v":97},{"i":10,"t":200,"v":96},{"i":10,"t":260,"v":97},{"i":10,"t":500,"v":91},
{"i":11,"t":0,"v":100},{"i":11,"t":10,"v":99},{"i":11,"t":20,"v":101},{"i":11,"t":30,"v":103},{"i":11,"t":40,"v":105},{"i":11,"t":50,"v":103},{"i":11,"t":60,"v":100},{"i":11,"t":70,"v":98},{"i":11,"t":80,"v":97},{"i":11,"t":90,"v":99},{"i":11,"t":100,"v":101},{"i":11,"t":110,"v":103},{"i":11,"t":120,"v":105},{"i":11,"t":130,"v":104},{"i":11,"t":140,"v":103},{"i":11,"t":200,"v":101},{"i":11,"t":260,"v":103},{"i":11,"t":500,"v":110}
]
},
"spacing": 31,
"hconcat": [
{"bounds": "flush", "spacing": 25.5, "vconcat": [
 {"title": {"text": "Lacustrine", "font": "Liberation Sans", "fontSize": 26, "fontWeight": "normal", "color": "#000", "frame": "group", "offset": 16},
  "width": 390, "height": 168,
  "layer": [
   {"data": {"name": "lco"}, "mark": "line",
    "encoding": {
     "x": {"field": "t", "type": "quantitative", "scale": {"domain": [-16, 511], "nice": false, "zero": false}, "axis": {"values": [0,100,200,300,400,500], "labels": false, "title": null}},
     "y": {"field": "v", "type": "quantitative", "scale": {"domain": [20, 180], "nice": false, "zero": false}, "axis": {"values": [20,40,60,80,100,120,140,160,180], "tickCount": 20, "title": null, "labelOverlap": false}},
     "detail": {"field": "i", "type": "nominal"}}},
   {"data": {"values": [{"label": "Cardiac Output"}]}, "mark": {"type": "text", "align": "right", "baseline": "middle"},
    "encoding": {"text": {"field": "label", "type": "nominal"}, "x": {"datum": 493, "type": "quantitative"}, "y": {"datum": 170, "type": "quantitative"}}}
  ]},
 {"width": 390, "height": 167,
  "layer": [
   {"data": {"name": "lhr"}, "mark": "line",
    "encoding": {
     "x": {"field": "t", "type": "quantitative", "scale": {"domain": [-16, 511], "nice": false, "zero": false}, "axis": {"values": [0,100,200,300,400,500], "labels": false, "title": null}},
     "y": {"field": "v", "type": "quantitative", "scale": {"domain": [40, 160], "nice": false, "zero": false}, "axis": {"values": [40,60,80,100,120,140,160], "tickCount": 20, "labelOverlap": false, "title": ["Relative Change in Cardiovascular Variables", "(percent change from resting)"], "titlePadding": 21, "titleLineHeight": 22}},
     "detail": {"field": "i", "type": "nominal"}}},
   {"data": {"values": [{"label": "Heart Rate"}]}, "mark": {"type": "text", "align": "right", "baseline": "middle"},
    "encoding": {"text": {"field": "label", "type": "nominal"}, "x": {"datum": 499, "type": "quantitative"}, "y": {"datum": 151, "type": "quantitative"}}}
  ]},
 {"width": 390, "height": 167,
  "layer": [
   {"data": {"name": "lsv"}, "mark": "line",
    "encoding": {
     "x": {"field": "t", "type": "quantitative", "scale": {"domain": [-16, 511], "nice": false, "zero": false}, "axis": {"values": [0,100,200,300,400,500], "labelOverlap": false, "labelFontSize": 16, "title": "Time (minutes)", "titleFontSize": 17, "titlePadding": 4}},
     "y": {"field": "v", "type": "quantitative", "scale": {"domain": [20, 200], "nice": false, "zero": false}, "axis": {"values": [20,40,60,80,100,120,140,160,180,200], "tickCount": 20, "title": null, "labelOverlap": false}},
     "detail": {"field": "i", "type": "nominal"}}},
   {"data": {"values": [{"label": "Stroke Volume"}]}, "mark": {"type": "text", "align": "right", "baseline": "middle"},
    "encoding": {"text": {"field": "label", "type": "nominal"}, "x": {"datum": 497, "type": "quantitative"}, "y": {"datum": 187, "type": "quantitative"}}}
  ]}
]},
{"bounds": "flush", "spacing": 25, "vconcat": [
 {"title": {"text": "Riverine", "font": "Liberation Sans", "fontSize": 26, "fontWeight": "normal", "color": "#000", "frame": "group", "offset": 16},
  "width": 373, "height": 169,
  "layer": [
   {"data": {"name": "rco"}, "mark": "line",
    "encoding": {
     "x": {"field": "t", "type": "quantitative", "scale": {"domain": [-2, 501], "nice": false, "zero": false}, "axis": {"values": [0,100,200,300,400,500], "labels": false, "title": null}},
     "y": {"field": "v", "type": "quantitative", "scale": {"domain": [20, 180], "nice": false, "zero": false}, "axis": {"values": [20,40,60,80,100,120,140,160,180], "tickCount": 20, "title": null, "labelOverlap": false, "labelPadding": 16, "labelFontSize": 15}},
     "detail": {"field": "i", "type": "nominal"}}},
   {"data": {"values": [{"label": "Cardiac Output"}]}, "mark": {"type": "text", "align": "right", "baseline": "middle"},
    "encoding": {"text": {"field": "label", "type": "nominal"}, "x": {"datum": 498, "type": "quantitative"}, "y": {"datum": 163.5, "type": "quantitative"}}}
  ]},
 {"width": 373, "height": 169,
  "layer": [
   {"data": {"name": "rhr"}, "mark": "line",
    "encoding": {
     "x": {"field": "t", "type": "quantitative", "scale": {"domain": [-2, 501], "nice": false, "zero": false}, "axis": {"values": [0,100,200,300,400,500], "labels": false, "title": null}},
     "y": {"field": "v", "type": "quantitative", "scale": {"domain": [40, 160], "nice": false, "zero": false}, "axis": {"values": [40,60,80,100,120,140,160], "tickCount": 20, "labelOverlap": false, "labelPadding": 16, "labelFontSize": 15, "title": ["Relative Change in Cardiovascular Variables", "(percent change from resting)"], "titlePadding": 18, "titleLineHeight": 22}},
     "detail": {"field": "i", "type": "nominal"}}},
   {"data": {"values": [{"label": "Heart Rate"}]}, "mark": {"type": "text", "align": "right", "baseline": "middle"},
    "encoding": {"text": {"field": "label", "type": "nominal"}, "x": {"datum": 500, "type": "quantitative"}, "y": {"datum": 149, "type": "quantitative"}}}
  ]},
 {"width": 373, "height": 169,
  "layer": [
   {"data": {"name": "rsv"}, "mark": "line",
    "encoding": {
     "x": {"field": "t", "type": "quantitative", "scale": {"domain": [-2, 501], "nice": false, "zero": false}, "axis": {"values": [0,100,200,300,400,500], "labelOverlap": false, "title": "Time (minutes)", "titleFontSize": 17, "titlePadding": 4, "labelFontSize": 15}},
     "y": {"field": "v", "type": "quantitative", "scale": {"domain": [20, 200], "nice": false, "zero": false}, "axis": {"values": [20,40,60,80,100,120,140,160,180,200], "tickCount": 20, "title": null, "labelOverlap": false, "labelPadding": 16, "labelFontSize": 15}},
     "detail": {"field": "i", "type": "nominal"}}},
   {"data": {"values": [{"label": "Stroke Volume"}]}, "mark": {"type": "text", "align": "right", "baseline": "middle"},
    "encoding": {"text": {"field": "label", "type": "nominal"}, "x": {"datum": 497, "type": "quantitative"}, "y": {"datum": 183, "type": "quantitative"}}}
  ]}
]}
]
}
